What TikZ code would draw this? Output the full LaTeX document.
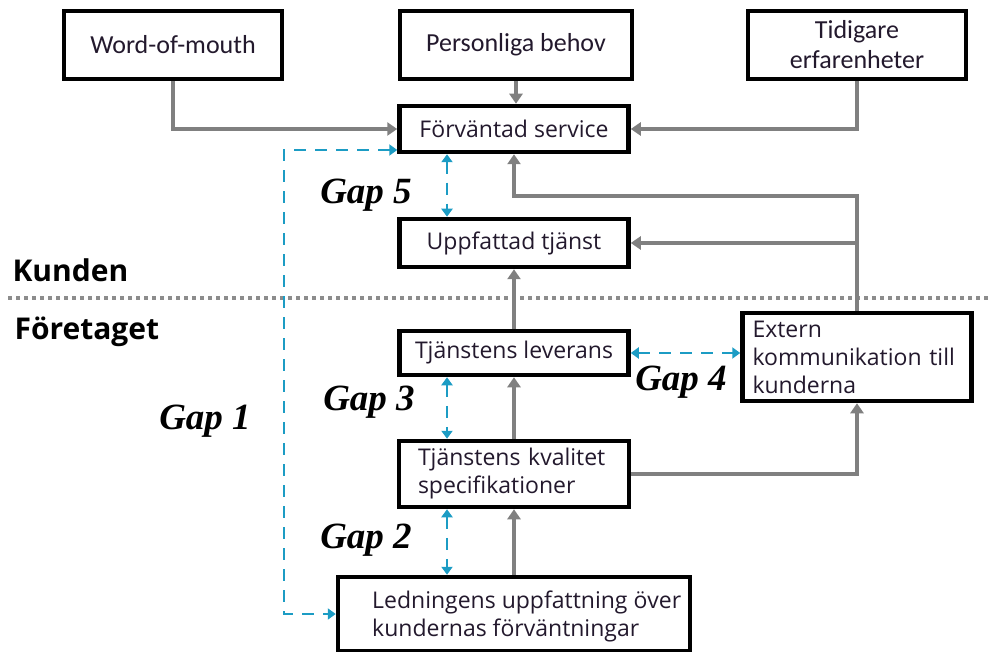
\documentclass[tikz,border=0pt]{standalone}
\usepackage{fontspec}
\usetikzlibrary{arrows.meta,calc}

\newfontfamily\boxfont{Open Sans}
\newfontfamily\topfont{Carlito}
\newfontfamily\gapfont{Liberation Serif}

\definecolor{flowgray}{RGB}{128,128,128}
\definecolor{gapblue}{RGB}{28,156,196}
\definecolor{dotgray}{RGB}{140,140,140}
\definecolor{boxtext}{RGB}{35,25,45}

\tikzset{
  box/.style={draw, line width=4.5pt, fill=white, inner sep=0pt, align=center, text=boxtext},
  topbox/.style={box, minimum height=68pt, font=\topfont\fontsize{26}{30}\selectfont},
  midbox/.style={box, minimum width=229pt, font=\boxfont\fontsize{23}{28}\selectfont},
  boxlines/.style={anchor=west, align=left, inner sep=0pt, text=boxtext, font=\boxfont\fontsize{23}{28}\selectfont},
  flow/.style={flowgray, line width=4pt, -{Triangle[length=10pt,width=13pt]}},
  gapline/.style={gapblue, line width=2.7pt, dash pattern=on 12pt off 9pt,
    {Triangle[length=8pt,width=11pt]}-{Triangle[length=8pt,width=11pt]}},
  gaplabel/.style={font=\gapfont\bfseries\itshape\fontsize{37}{40}\selectfont},
  side/.style={anchor=west, font=\boxfont\bfseries\fontsize{30}{32}\selectfont}
}

\begin{document}
\begin{tikzpicture}[x=1pt,y=-1pt]
\useasboundingbox (0,0) rectangle (991,652);

% Customer side
\node[topbox, minimum width=218pt] (wom) at (173,45) {Word-of-mouth};
\node[topbox, minimum width=232pt] (pers) at (516,45) {Personliga behov};
\node[topbox, minimum width=218pt] (tid) at (857,45) {Tidigare\\erfarenheter};
\node[midbox, minimum height=46pt] (forv) at (514,129) {F\"orv\"antad service};
\node[midbox, minimum height=48pt] (uppf) at (514,243) {Uppfattad tj\"anst};

% Company side
\node[midbox, minimum height=44pt] (lev) at (514,353) {Tj\"anstens leverans};
\node[midbox, minimum height=88pt, text width=209pt, inner xsep=10pt, align=left] (ext) at (857,357)
  {Extern\\kommunikation till\\kunderna};
\node[midbox, minimum height=66pt, text width=192pt, inner xsep=19pt, align=left] (kval) at (514,474)
  {Tj\"anstens kvalitet\\specifikationer};
\node[midbox, minimum width=352pt, minimum height=74pt] (led) at (514,614) {};
\node[boxlines] (ledtext) at (372,616)
  {Ledningens uppfattning \"over\\kundernas f\"orv\"antningar};

% Border between the two sides
\draw[dotgray, line width=4pt, dash pattern=on 4pt off 4pt] (8,298) -- (991,298);
\node[side] (kunden) at (9,270) {Kunden};
\node[side] (foretaget) at (11,332) {F\"oretaget};

% Gray flows
\coordinate (ret) at (857,196);
\draw[flow] (wom.south) |- (forv.west);
\draw[flow] (pers.south) -- (pers.south |- forv.north);
\draw[flow] (tid.south) |- (forv.east);
\draw[flow] (ext.north) -- (ret) -| (forv.south);
\draw[flow] (ext.north) |- (uppf.east);
\draw[flow] (lev.north) -- (uppf.south);
\draw[flow] (kval.north) -- (lev.south);
\draw[flow] (led.north) -- (kval.south);
\draw[flow] (kval.east) -| (ext.south);

% Gaps
\coordinate (gx) at (447,0);
\coordinate (g1) at (284,150);
\foreach \a/\b in {forv/uppf,lev/kval,kval/led}
  \draw[gapline] (\a.south -| gx) -- (\b.north -| gx);
\draw[gapline] (lev.east) -- (lev.east -| ext.west);
\draw[gapline] (forv.west |- g1) -- (g1) |- (led.west);

\node[gaplabel] (gap5) at (366,195) {Gap 5};
\node[gaplabel] (gap3) at (369,402) {Gap 3};
\node[gaplabel] (gap1) at (205,421) {Gap 1};
\node[gaplabel] (gap2) at (366,540) {Gap 2};
\node[gaplabel] (gap4) at (681,382) {Gap 4};

\end{tikzpicture}
\end{document}
